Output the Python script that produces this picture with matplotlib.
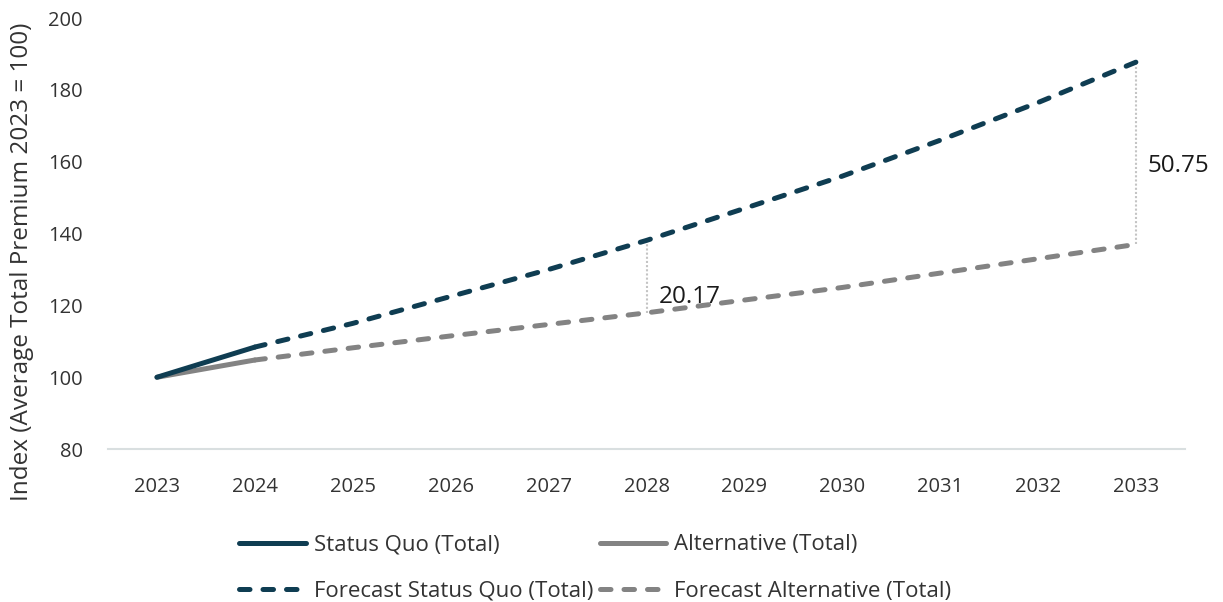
#! /usr/bin/env python3

import matplotlib
matplotlib.use( 'Agg' )
import matplotlib.pyplot as plt

#----------------------------------------------------------------------------
# Index of average total premium, 2023 = 100
#----------------------------------------------------------------------------
years = [ '2023', '2024', '2025', '2026', '2027', '2028',
          '2029', '2030', '2031', '2032', '2033' ]

status_quo  = [ 100.0, 108.4 ]   # actuals 2023-2024
alternative = [ 100.0, 104.8 ]

fc_status_quo  = [ 108.4, 115.0, 122.5, 130.0, 138.10, 147.0,
                   156.0, 166.0, 176.5, 187.75 ]   # 2024-2033
fc_alternative = [ 104.8, 108.2, 111.5, 114.7, 117.93, 121.5,
                   125.0, 129.0, 133.0, 137.00 ]

gap_years = [ '2028', '2033' ]

DARK = '#0f3d52'
GREY = '#838383'
TEXT = '#333333'

#----------------------------------------------------------------------------
def main():
    plt.rcParams['font.family'] = [ 'Open Sans', 'DejaVu Sans' ]

    fig = plt.figure( figsize = ( 12.23, 6.02 ), dpi = 100 )
    ax  = fig.add_axes( [ 0.0883, 0.254, 0.8807, 0.716 ] )

    x    = list( range( len( years ) ) )
    x_fc = x[1:]
    dash = ( 0, ( 2.1, 2.6 ) )
    lw   = 3.6

    h_sq,  = ax.plot( x[:2], status_quo, color = DARK, lw = lw,
                      solid_capstyle = 'round', label = 'Status Quo (Total)' )
    h_alt, = ax.plot( x[:2], alternative, color = GREY, lw = lw,
                      solid_capstyle = 'round', label = 'Alternative (Total)' )
    h_fsq, = ax.plot( x_fc, fc_status_quo, color = DARK, lw = lw,
                      linestyle = dash, dash_capstyle = 'round',
                      label = 'Forecast Status Quo (Total)' )
    h_fal, = ax.plot( x_fc, fc_alternative, color = GREY, lw = lw,
                      linestyle = dash, dash_capstyle = 'round',
                      label = 'Forecast Alternative (Total)' )
    # keep status quo on top of the alternative
    h_sq.set_zorder( 4 )
    h_fsq.set_zorder( 4 )

    # gap between the two forecasts, dotted drop line and value
    for yr in gap_years:
        i   = years.index( yr )
        top = fc_status_quo[ i - 1 ]
        bot = fc_alternative[ i - 1 ]
        ax.plot( [ i, i ], [ bot, top ], color = '#c4c4c4', lw = 1.5,
                 linestyle = ( 0, ( 1, 1 ) ), zorder = 2 )
        ypos = bot + 0.22 * ( top - bot ) if i < 10 else bot + 0.43 * ( top - bot )
        ax.text( i + 0.12, ypos, f'{top - bot:.2f}', fontsize = 17.5,
                 color = '#1a1a1a', va = 'center', ha = 'left' )

    ax.set_xlim( -0.5, len( years ) - 0.5 )
    ax.set_ylim( 80, 200 )
    ax.set_yticks( range( 80, 201, 20 ) )
    ax.set_xticks( x, labels = years )
    ax.tick_params( axis = 'both', length = 0, labelsize = 14.5,
                    labelcolor = TEXT )
    ax.tick_params( axis = 'y', pad = 18 )
    ax.tick_params( axis = 'x', pad = 20 )

    for s in ( 'top', 'right', 'left' ):
        ax.spines[ s ].set_visible( False )
    ax.spines['bottom'].set_color( '#d9dfe0' )
    ax.spines['bottom'].set_linewidth( 1.5 )

    ax.set_ylabel( 'Index (Average Total Premium 2023 = 100)', fontsize = 17.5,
                   color = TEXT )
    ax.yaxis.set_label_coords( -0.069, 0.434 )

    fig.legend( handles = [ h_sq, h_fsq, h_alt, h_fal ], ncol = 2,
                loc = 'upper left', bbox_to_anchor = ( 0.1864, 0.1307 ),
                frameon = False, fontsize = 16, handlelength = 3.0,
                handletextpad = 0.36, columnspacing = 0.3,
                labelspacing = 1.15, borderpad = 0, labelcolor = TEXT )

    fig.savefig( 'out.png', dpi = 100 )

#----------------------------------------------------------------------------
if __name__ == "__main__":
    main()
